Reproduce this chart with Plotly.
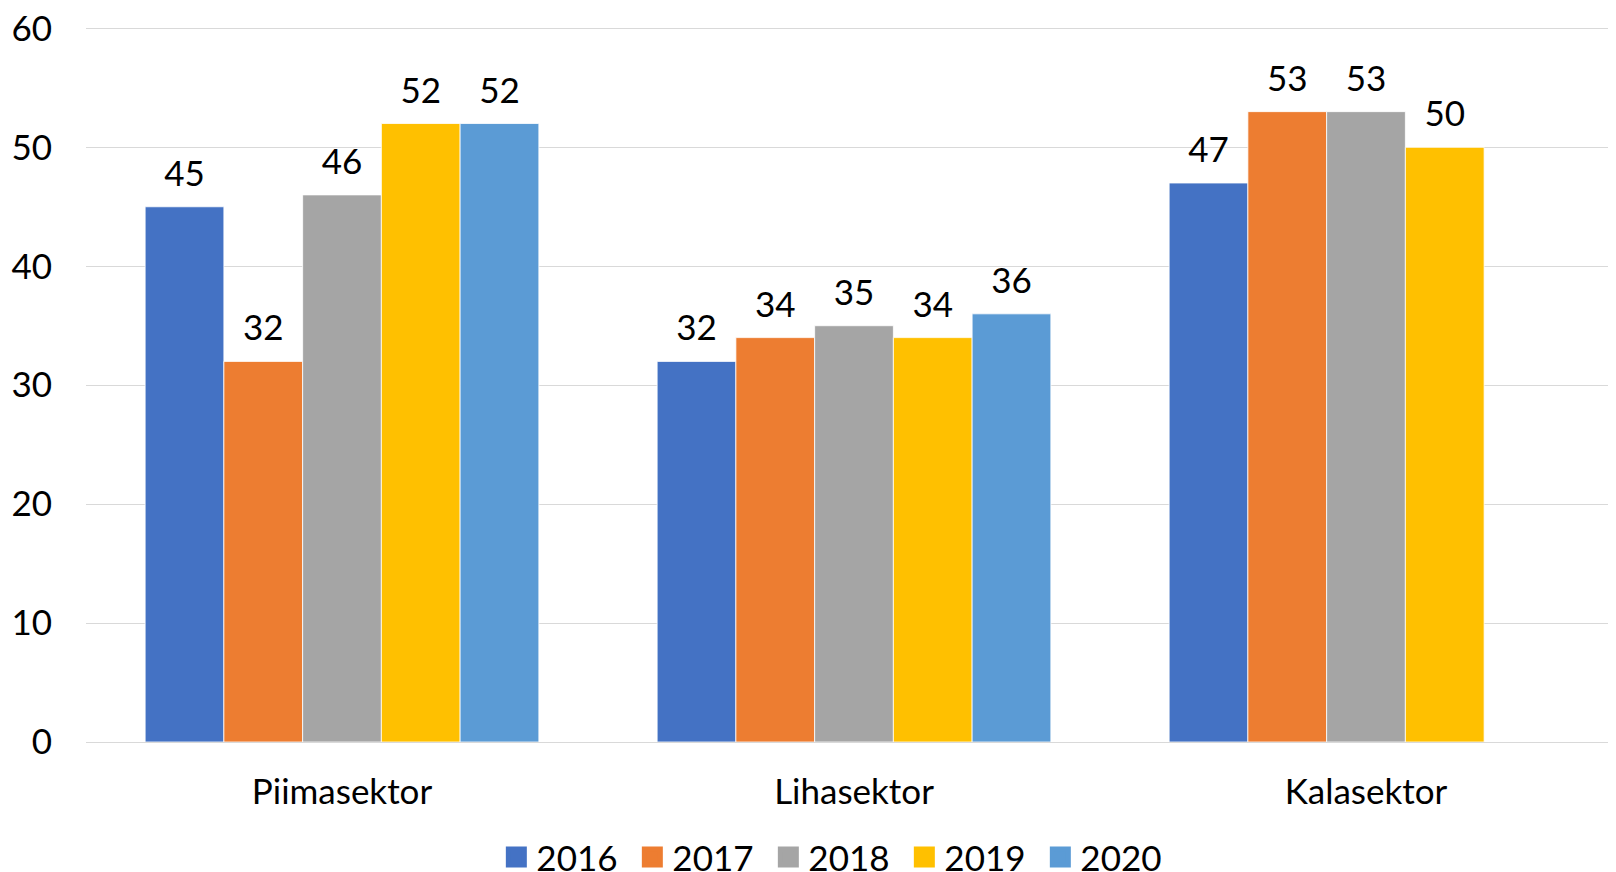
import plotly.graph_objects as go

categories = ["Piimasektor", "Lihasektor", "Kalasektor"]
years = ["2016", "2017", "2018", "2019", "2020"]
v2016 = [45, 32, 47]
v2017 = [32, 34, 53]
v2018 = [46, 35, 53]
v2019 = [52, 34, 50]
v2020 = [52, 36, None]
series = [v2016, v2017, v2018, v2019, v2020]
colors = ["#4472C4", "#ED7D31", "#A5A5A5", "#FFC000", "#5B9BD5"]

FONT = "Lato"
FS = 35
GAP = 0.231

fig = go.Figure()
for name, vals, col in zip(years, series, colors):
    fig.add_trace(go.Bar(
        x=categories, y=vals, name=name, showlegend=False,
        marker=dict(color=col, line=dict(color="white", width=0.8)),
    ))
for name, vals, col in zip(years, series, colors):
    fig.add_trace(go.Scatter(
        x=categories, y=vals, mode="markers+text", showlegend=False,
        text=[("" if v is None else str(v)) for v in vals],
        textposition="top center",
        textfont=dict(size=FS, color="black", family=FONT),
        marker=dict(size=18, opacity=0, color=col),
        cliponaxis=False, hoverinfo="skip",
    ))
for name, col in zip(years, colors):
    fig.add_trace(go.Scatter(
        x=[None], y=[None], mode="markers", name=name, xaxis="x2", yaxis="y2",
        marker=dict(symbol="square", size=16, color=col, line=dict(color=col, width=5)),
    ))

fig.update_layout(
    width=1616, height=864,
    margin=dict(l=78, r=2, t=18, b=130, autoexpand=False),
    paper_bgcolor="white", plot_bgcolor="white",
    font=dict(family=FONT, size=FS, color="black"),
    barmode="group", bargap=GAP, bargroupgap=0,
    scattermode="group", scattergap=GAP,
    legend=dict(orientation="h", x=0.4885, xanchor="center", y=-0.161, yanchor="middle",
                font=dict(size=FS), itemsizing="trace", traceorder="normal",
                entrywidth=91),
    xaxis2=dict(overlaying="x", visible=False),
    yaxis2=dict(overlaying="y", visible=False),
)
fig.layout.yaxis.update(range=[0, 60.2], tickvals=[0, 10, 20, 30, 40, 50, 60], showgrid=True,
                        gridcolor="#d9d9d9", gridwidth=1.3,
                        zeroline=True, zerolinecolor="#d9d9d9", zerolinewidth=1.3,
                        showline=False, ticks="", ticklabelstandoff=33,
                        ticklabeloverflow="allow")
fig.layout.xaxis.update(showline=False, ticks="", ticklabelstandoff=26)

fig.write_html("out.html")
